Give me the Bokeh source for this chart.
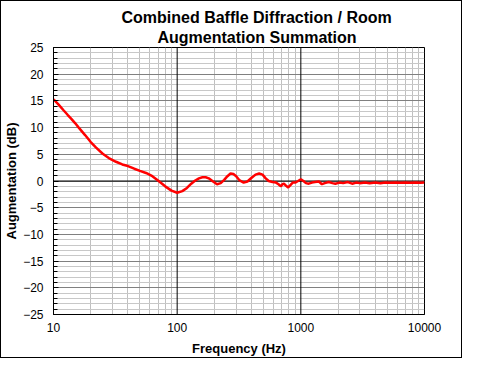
from bokeh.plotting import figure
from bokeh.models import Range1d, FixedTicker, Span, Title, PrintfTickFormatter
from bokeh.embed import file_html
from bokeh.resources import INLINE

freq = [10, 11, 12, 13, 14, 15, 16, 18, 20, 22, 25, 28, 32, 36, 40, 45, 50, 56, 63, 70,
        80, 90, 100, 110, 120, 130, 140, 150, 160, 170, 180, 195, 210, 225, 240, 255, 270,
        285, 300, 320, 345, 370, 400, 430, 460, 490, 520, 550, 590, 630, 660, 690, 710,
        730, 760, 790, 820, 860, 900, 950, 1000, 1050, 1100, 1160, 1230, 1300, 1400, 1480,
        1560, 1680, 1800, 1900, 2050, 2200, 2400, 2600, 2800, 3000, 3300, 3600, 4000, 4400,
        4800, 5300, 5800, 6400, 7000, 7700, 8500, 9300, 10000]
augmentation_db = [15.3, 14.3, 13.3, 12.4, 11.6, 10.8, 10.0, 8.6, 7.3, 6.3, 5.1, 4.3, 3.6,
                   3.1, 2.8, 2.3, 1.9, 1.5, 0.9, 0.1, -1.0, -1.8, -2.2, -1.9, -1.3, -0.5,
                   0.1, 0.5, 0.7, 0.7, 0.5, -0.1, -0.6, -0.4, 0.2, 0.9, 1.4, 1.3, 0.9, 0.1,
                   -0.3, -0.1, 0.6, 1.2, 1.4, 1.2, 0.5, 0.0, -0.2, -0.3, -0.6, -1.0, -0.6,
                   -0.5, -0.9, -1.2, -0.8, -0.3, -0.3, 0.0, 0.3, 0.0, -0.4, -0.5, -0.3,
                   -0.2, -0.1, -0.6, -0.4, -0.2, -0.4, -0.5, -0.3, -0.4, -0.2, -0.5, -0.3,
                   -0.4, -0.3, -0.4, -0.3, -0.4, -0.3, -0.35, -0.3, -0.35, -0.3, -0.35,
                   -0.3, -0.35, -0.3]

x_major = [10, 100, 1000, 10000]
x_minor = [m * d for d in (10, 100, 1000) for m in range(2, 10)]
y_major = list(range(-25, 26, 5))
y_minor = list(range(-25, 26, 1))

FONT = "Liberation Sans"

p = figure(width=462, height=358, x_axis_type="log",
           x_range=Range1d(10, 10000), y_range=Range1d(-25, 25),
           output_backend="svg", toolbar_location=None,
           min_border_left=44, min_border_right=39, min_border_top=46, min_border_bottom=45)
p.styles = {"border": "1px solid black"}

p.title = None
t2 = Title(text="Augmentation Summation", align="left", text_font=FONT,
           text_font_size="16px", text_font_style="bold", text_color="black",
           standoff=3, offset=104)
t1 = Title(text="Combined Baffle Diffraction / Room", align="left", text_font=FONT,
           text_font_size="16px", text_font_style="bold", text_color="black",
           standoff=0, offset=68)
p.add_layout(t2, "above")
p.add_layout(t1, "above")

p.outline_line_color = "black"
p.outline_line_width = 1
p.background_fill_color = "white"
p.border_fill_color = "white"

# x axis
p.xaxis.ticker = FixedTicker(ticks=x_major, minor_ticks=x_minor)
p.xaxis.formatter = PrintfTickFormatter(format="%d")
p.xaxis.axis_label = "Frequency (Hz)"
p.xaxis.major_tick_out = 0
p.xaxis.major_tick_in = 0
p.xaxis.minor_tick_out = 0
p.xaxis.minor_tick_in = 0
p.xaxis.major_label_standoff = 8
p.xaxis.axis_label_standoff = 6

# y axis
p.yaxis.ticker = FixedTicker(ticks=y_major, minor_ticks=y_minor)
p.yaxis.axis_label = "Augmentation (dB)"
p.yaxis.major_tick_out = 0
p.yaxis.major_tick_in = 5
p.yaxis.minor_tick_out = 0
p.yaxis.minor_tick_in = 4
p.yaxis.major_label_standoff = 10
p.yaxis.axis_label_standoff = 1

for ax in (p.xaxis, p.yaxis):
    ax.axis_line_color = "black"
    ax.major_tick_line_color = "black"
    ax.minor_tick_line_color = "black"
    ax.major_label_text_font = FONT
    ax.major_label_text_font_size = "12px"
    ax.major_label_text_color = "black"
    ax.axis_label_text_font = FONT
    ax.axis_label_text_font_size = "13px"
    ax.axis_label_text_font_style = "bold"
    ax.axis_label_text_color = "black"

# grids
p.xgrid.ticker = FixedTicker(ticks=x_major, minor_ticks=x_minor)
p.xgrid.grid_line_color = None
p.xgrid.minor_grid_line_color = "#c0c0c0"
p.ygrid.ticker = FixedTicker(ticks=y_major, minor_ticks=y_minor)
p.ygrid.grid_line_color = "#808080"
p.ygrid.minor_grid_line_color = "#c8c8c8"

for xm in x_major:
    p.add_layout(Span(location=xm, dimension="height", line_color="black",
                      line_width=1, level="underlay"))
p.add_layout(Span(location=0, dimension="width", line_color="black", line_width=1,
                  level="underlay"))

p.line(freq, augmentation_db, line_color="#ff0000", line_width=2.5)

open("out.html", "w").write(file_html(p, INLINE))
